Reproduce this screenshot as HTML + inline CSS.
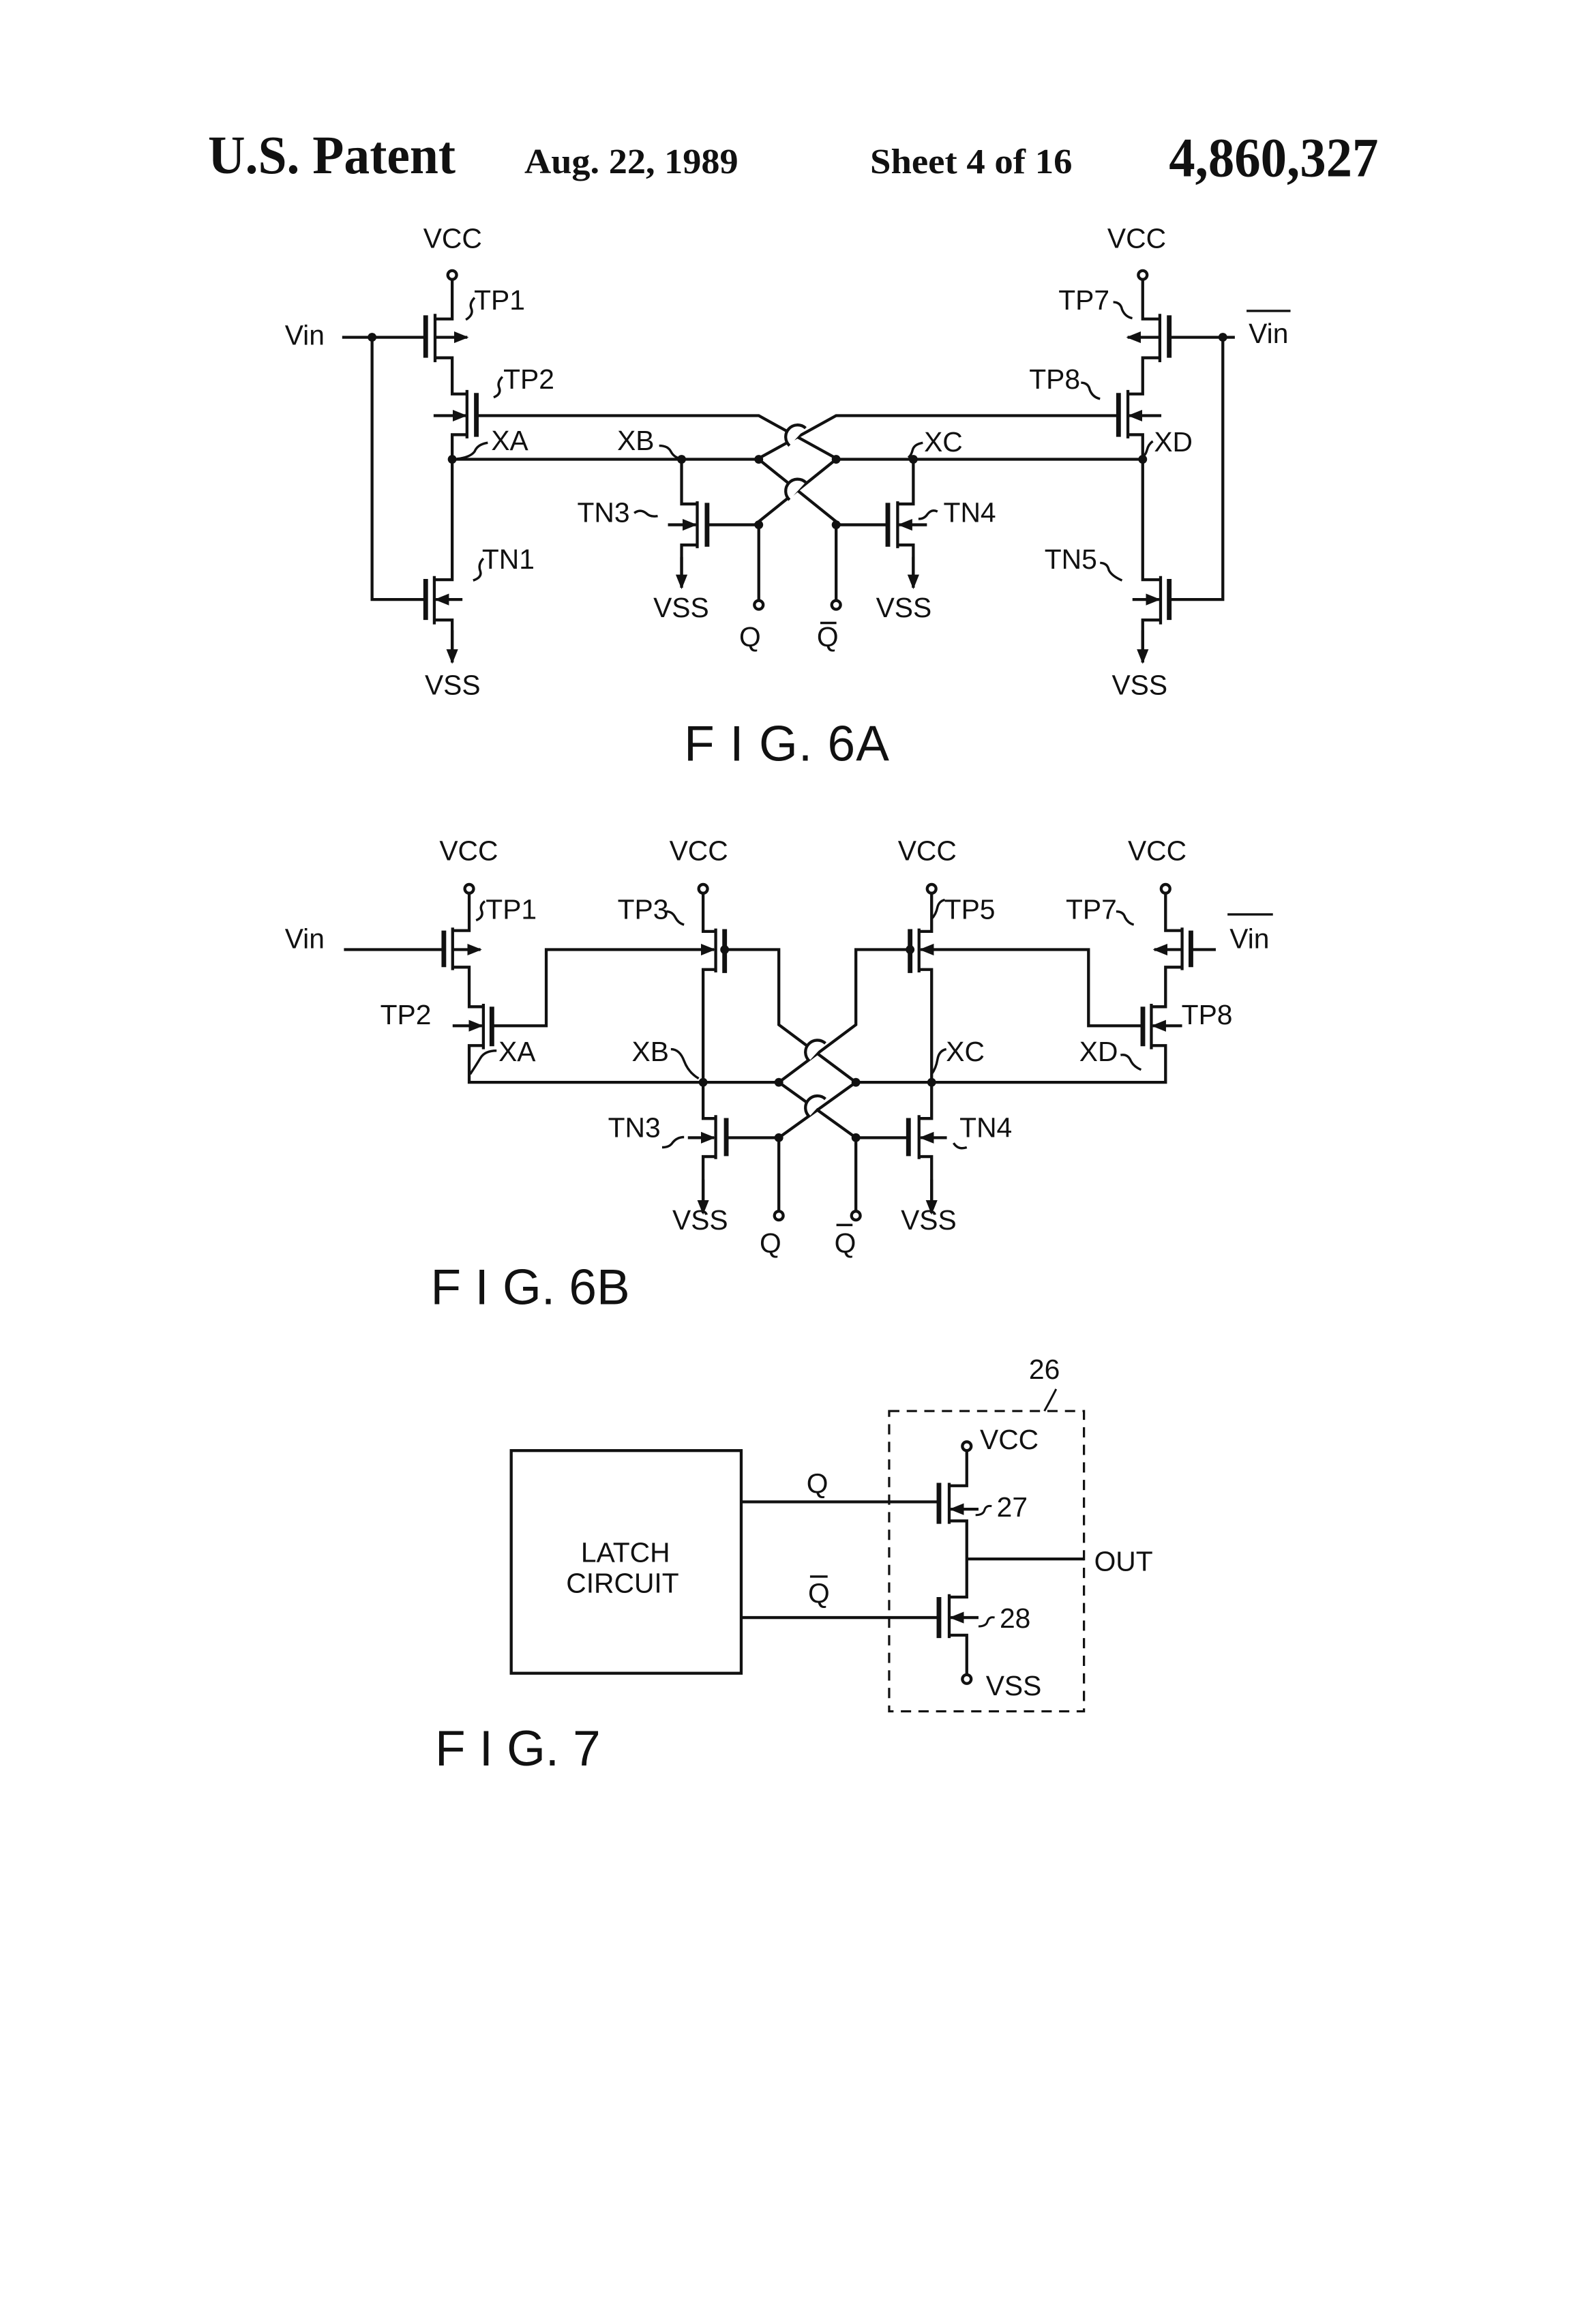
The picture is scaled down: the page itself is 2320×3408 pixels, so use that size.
<!DOCTYPE html>
<html><head><meta charset="utf-8"><style>
html,body{margin:0;padding:0;background:#fff;}
svg{display:block;}
text{font-family:"Liberation Sans",sans-serif;fill:#111;}
.s{font-size:19px;}
</style></head><body>
<svg width="2320" height="3408" viewBox="0 0 1080 1586" xmlns="http://www.w3.org/2000/svg">
<defs>
<marker id="ah" viewBox="0 0 10 10" refX="9" refY="5" markerWidth="5" markerHeight="5" orient="auto"><path d="M0 1 L10 5 L0 9 z" fill="#111"/></marker>
<g id="L" stroke="#111" stroke-width="2" fill="none">
 <path d="M308.7 191 V217.5 H297 M297 244 H308.7 V268.7 H318.8 M318.8 296.5 H308.7 V395.5 H296.5 M296.5 423 H308.7 V452"/>
 <path d="M308.7 430 V452" marker-end="url(#ah)"/>
 <circle cx="308.7" cy="187.5" r="3"/>
 <path d="M297 214 V247 M318.8 266 V299 M296.5 393 V426"/>
 <path d="M290.6 215 V244 M325.2 268 V298 M290.6 395 V423" stroke-width="3.2"/>
 <path d="M233.6 230 H290.6 M254 230 V409 H290.6"/>
 <path d="M297 230 H319" marker-end="url(#ah)"/>
 <path d="M296 283.5 H318" marker-end="url(#ah)"/>
 <path d="M315.7 409 H297.5" marker-end="url(#ah)"/>
 <path d="M308.7 313.3 H518 M325.2 283.5 H518 L572 313.3 M518 313.3 L573.5 358"/>
 <path d="M465.3 313.3 V343.8 H476 M476 371.8 H465.3 V400" />
 <path d="M465.3 380 V401" marker-end="url(#ah)"/>
 <path d="M476 342 V374"/>
 <path d="M482.7 343 V373" stroke-width="3.2"/>
 <path d="M482.7 358 H518 M518 358 V409"/>
 <path d="M456 358 H475" marker-end="url(#ah)"/>
 <circle cx="518" cy="412.7" r="3"/>
 <g fill="#111" stroke="none"><circle cx="254" cy="230" r="3"/><circle cx="308.7" cy="313.3" r="3"/><circle cx="465.3" cy="313.3" r="3"/><circle cx="518" cy="313.3" r="3"/><circle cx="518" cy="358" r="3"/></g>
</g>
<g id="M" stroke="#111" stroke-width="2" fill="none">
 <circle cx="320.3" cy="606.5" r="3"/>
 <path d="M320.3 610 V635 H309 M309 660 H320.3 V687 H330 M330 713.5 H320.3 V738.6 H531.7"/>
 <path d="M309 633 V662 M330 685 V716 M488.6 633.6 V663.6 M488.6 761 V791"/>
 <path d="M303 635 V660 M335.8 687 V714 M494.7 634 V664 M495.8 763 V789" stroke-width="3.2"/>
 <path d="M234.8 648 H303"/>
 <path d="M309 648 H328" marker-end="url(#ah)"/>
 <path d="M309 700 H329" marker-end="url(#ah)"/>
 <path d="M335.8 700 H372.9 V648 H487.5" marker-end="url(#ah)"/>
 <circle cx="480" cy="606.5" r="3"/>
 <path d="M480 610 V635.6 H488.6 M488.6 661.6 H480 V763.3 H488.6 M488.6 789.3 H480 V826"/>
 <path d="M480 805 V828" marker-end="url(#ah)"/>
 <path d="M494.7 648 H531.7 V699.3 L584.3 738.6 M531.7 738.6 L584.3 776.4 M495.8 776.4 H531.7 V826"/>
 <path d="M469.6 776.4 H487.5" marker-end="url(#ah)"/>
 <circle cx="531.7" cy="829.6" r="3"/>
 <g fill="#111" stroke="none"><circle cx="480" cy="738.6" r="3"/><circle cx="531.7" cy="738.6" r="3"/><circle cx="494.7" cy="648" r="3"/><circle cx="531.7" cy="776.4" r="3"/></g>
</g>
</defs>

<!-- Header -->
<text x="142" y="118" font-weight="bold" font-size="37" textLength="169" lengthAdjust="spacingAndGlyphs" style="font-family:'Liberation Serif',serif">U.S. Patent</text>
<text x="358" y="118" font-weight="bold" font-size="24" textLength="146" lengthAdjust="spacingAndGlyphs" style="font-family:'Liberation Serif',serif">Aug. 22, 1989</text>
<text x="594" y="118" font-weight="bold" font-size="24" textLength="138" lengthAdjust="spacingAndGlyphs" style="font-family:'Liberation Serif',serif">Sheet 4 of 16</text>
<text x="798" y="120" font-weight="bold" font-size="38" textLength="143" lengthAdjust="spacingAndGlyphs" style="font-family:'Liberation Serif',serif">4,860,327</text>

<!-- FIG 6A -->
<use href="#L"/>
<g transform="translate(1088.8 0) scale(-1 1)"><use href="#L"/></g>
<rect x="843" y="222" width="20" height="14" fill="#fff"/>
<g fill="#fff" stroke="#111" stroke-width="2">
 <path d="M539 304 A5.5 5.5 0 0 1 550 292" />
 <path d="M539 341 A5.5 5.5 0 0 1 550 329" />
</g>
<g class="s" text-anchor="middle">
 <text x="309" y="169">VCC</text>
 <text x="776" y="169">VCC</text>
 <text x="208" y="235">Vin</text>
 <text x="866" y="234">Vin</text>
 <text x="341" y="211">TP1</text>
 <text x="361" y="265">TP2</text>
 <text x="348" y="307">XA</text>
 <text x="434" y="307">XB</text>
 <text x="412" y="356">TN3</text>
 <text x="347" y="388">TN1</text>
 <text x="309" y="474">VSS</text>
 <text x="465" y="421">VSS</text>
 <text x="512" y="441">Q</text>
 <text x="565" y="441">Q</text>
 <text x="617" y="421">VSS</text>
 <text x="662" y="356">TN4</text>
 <text x="644" y="308">XC</text>
 <text x="801" y="308">XD</text>
 <text x="731" y="388">TN5</text>
 <text x="740" y="211">TP7</text>
 <text x="720" y="265">TP8</text>
 <text x="778" y="474">VSS</text>
</g>
<g stroke="#111" stroke-width="1.6" fill="none">
 <path d="M851 212 H881 M560 425 H571"/>
 <path d="M324 203 q-4 4 -2 8 q1 4 -4 7"/>
 <path d="M343 257 q-4 4 -2 8 q1 4 -4 6"/>
 <path d="M333 302 q-7 1 -9 6 q-3 4 -12 5"/>
 <path d="M450 304 q6 0 8 4 q2 4 7 5"/>
 <path d="M433 350 q4 -3 8 0 q3 3 8 2"/>
 <path d="M330 381 q-4 4 -2 9 q1 4 -5 6"/>
 <path d="M640 349 q-4 -2 -7 2 q-2 3 -6 3"/>
 <path d="M630 302 q-6 1 -7 5 q-1 4 -3 5"/>
 <path d="M760 206 q5 0 6 5 q2 5 7 6"/>
 <path d="M738 261 q5 0 6 5 q2 5 7 6"/>
 <path d="M787 301 q-3 2 -4 6 q-1 4 -4 5"/>
 <path d="M751 384 q5 0 6 5 q2 4 9 7"/>
</g>
<text x="467" y="519" font-size="34" textLength="140" lengthAdjust="spacing">F I G. 6A</text>

<!-- FIG 6B -->
<use href="#M"/>
<g transform="translate(1116 0) scale(-1 1)"><use href="#M"/></g>
<rect x="830" y="640" width="55" height="14" fill="#fff"/>
<g fill="#fff" stroke="#111" stroke-width="2">
 <path d="M552.5 724 A5.5 5.5 0 0 1 563.5 712"/>
 <path d="M552.5 762 A5.5 5.5 0 0 1 563.5 750"/>
</g>
<g class="s" text-anchor="middle">
 <text x="320" y="587">VCC</text>
 <text x="477" y="587">VCC</text>
 <text x="633" y="587">VCC</text>
 <text x="790" y="587">VCC</text>
 <text x="208" y="647">Vin</text>
 <text x="853" y="647">Vin</text>
 <text x="349" y="627">TP1</text>
 <text x="439" y="627">TP3</text>
 <text x="662" y="627">TP5</text>
 <text x="745" y="627">TP7</text>
 <text x="277" y="699">TP2</text>
 <text x="824" y="699">TP8</text>
 <text x="353" y="724">XA</text>
 <text x="444" y="724">XB</text>
 <text x="659" y="724">XC</text>
 <text x="750" y="724">XD</text>
 <text x="433" y="776">TN3</text>
 <text x="673" y="776">TN4</text>
 <text x="478" y="839">VSS</text>
 <text x="634" y="839">VSS</text>
 <text x="526" y="855">Q</text>
 <text x="577" y="855">Q</text>
</g>
<g stroke="#111" stroke-width="1.6" fill="none">
 <path d="M838 624 H869 M571 836 H582"/>
 <path d="M331 615 q-4 3 -2 7 q1 4 -4 6"/>
 <path d="M339 717 q-8 0 -11 5 q-3 5 -7 11"/>
 <path d="M458 716 q6 0 9 8 q3 8 10 12"/>
 <path d="M455 622 q4 0 6 4 q2 4 6 5"/>
 <path d="M645 614 q-4 1 -5 5 q-1 5 -4 8"/>
 <path d="M762 622 q5 0 6 4 q2 4 6 5"/>
 <path d="M765 720 q5 -1 7 4 q2 4 7 6"/>
 <path d="M646 716 q-5 1 -6 7 q-1 6 -4 10"/>
 <path d="M452 783 q5 0 7 -3 q3 -4 8 -4"/>
 <path d="M651 780 q3 5 9 3"/>
</g>
<text x="294" y="890" font-size="34" textLength="136" lengthAdjust="spacing">F I G. 6B</text>

<!-- FIG 7 -->
<g stroke="#111" stroke-width="2" fill="none">
 <rect x="349" y="990" width="157" height="152"/>
 <rect x="607" y="963" width="133" height="205" stroke-dasharray="7 5" stroke-width="1.5"/>
 <path d="M506 1025 H641 M506 1104 H641"/>
 <circle cx="660" cy="987" r="3"/>
 <path d="M660 990 V1014 H648 M648 1038 H660 V1090 H648 M648 1116 H660 V1143"/>
 <circle cx="660" cy="1146" r="3"/>
 <path d="M648 1012 V1040 M648 1088 V1118"/>
 <path d="M641 1012 V1040 M641 1090 V1118" stroke-width="3.2"/>
 <path d="M660 1064 H740"/>
 <path d="M668 1030 H649" marker-end="url(#ah)"/>
 <path d="M668 1104 H649" marker-end="url(#ah)"/>
 <path d="M721 948 q-3 6 -8 15" stroke-width="1.4"/>
 <path d="M677 1028 q-4 -1 -5 3 q-1 3 -6 3" stroke-width="1.4"/>
 <path d="M679 1104 q-4 -1 -5 3 q-1 3 -6 3" stroke-width="1.4"/>
 <path d="M553 1076 H565" stroke-width="1.6"/>
</g>
<g class="s" text-anchor="middle">
 <text x="713" y="941">26</text>
 <text x="427" y="1066">LATCH</text>
 <text x="425" y="1087">CIRCUIT</text>
 <text x="558" y="1019">Q</text>
 <text x="559" y="1094">Q</text>
 <text x="689" y="989">VCC</text>
 <text x="691" y="1035">27</text>
 <text x="767" y="1072">OUT</text>
 <text x="693" y="1111">28</text>
 <text x="692" y="1157">VSS</text>
</g>
<text x="297" y="1205" font-size="34" textLength="113" lengthAdjust="spacing">F I G. 7</text>
</svg>
</body></html>
